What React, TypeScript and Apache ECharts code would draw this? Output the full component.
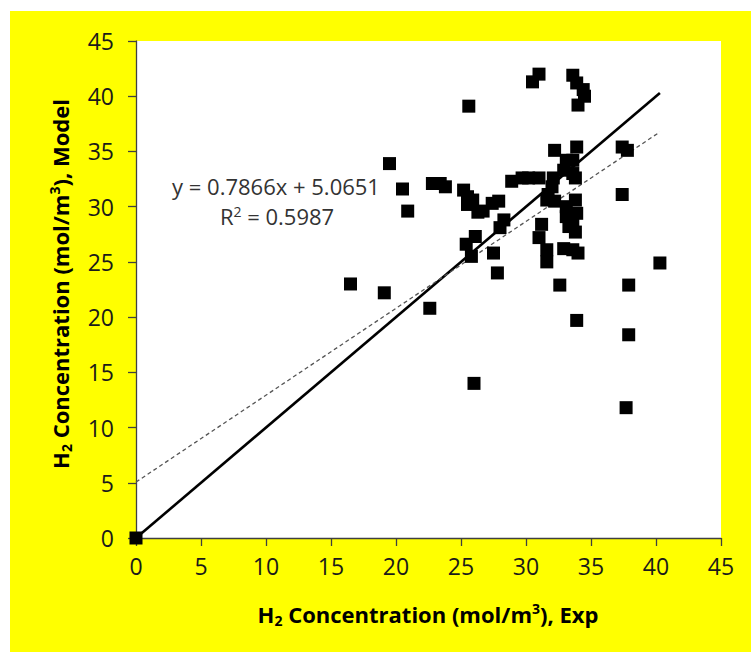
import React, { useEffect, useRef } from "react";
import * as echarts from "echarts";

// Experimental vs. model H2 concentrations (mol/m3)
const expValues = [
  0, 16.5, 19.1, 19.5, 20.5, 20.9, 22.6, 22.8, 23.4, 23.8,
  25.2, 25.5, 25.9, 25.5, 26.3, 25.4, 26.1, 25.8, 26.0, 25.6,
  26.7, 27.4, 27.9, 28.3, 28.0, 27.5, 27.8, 28.9, 29.7, 30.2,
  31.0, 32.1, 32.0, 31.7, 31.6, 32.2, 30.5, 31.0, 33.6, 33.9,
  34.4, 34.5, 34.0, 32.2, 33.9, 33.6, 33.1, 32.9, 33.6, 33.8,
  33.1, 33.8, 33.9, 33.1, 33.6, 33.3, 33.8, 31.2, 31.0, 31.6,
  31.6, 32.9, 33.6, 34.0, 32.6, 33.9, 37.4, 37.8, 37.4, 37.9,
  37.9, 37.7, 40.3,
];
const modelValues = [
  0, 23.0, 22.2, 33.9, 31.6, 29.6, 20.8, 32.1, 32.1, 31.8,
  31.5, 30.9, 30.6, 30.2, 29.5, 26.6, 27.3, 25.5, 14.0, 39.1,
  29.6, 30.3, 30.5, 28.8, 28.1, 25.8, 24.0, 32.3, 32.6, 32.6,
  32.6, 32.6, 31.8, 31.1, 30.6, 30.5, 41.3, 42.0, 41.9, 41.2,
  40.6, 40.0, 39.2, 35.1, 35.4, 34.2, 34.2, 33.3, 33.0, 32.6,
  30.0, 30.6, 29.4, 29.1, 28.5, 28.2, 27.7, 28.4, 27.2, 26.1,
  25.0, 26.2, 26.1, 25.8, 22.9, 19.7, 35.4, 35.1, 31.1, 22.9,
  18.4, 11.8, 24.9,
];

// Linear fit reported on the chart
const fitSlope = 0.7866;
const fitIntercept = 5.0651;
const fitR2 = 0.5987;

const axisTicks = { min: 0, max: 45, interval: 5 };

const FONT = "'Open Sans', 'Noto Sans', sans-serif";

export default function App() {
  const ref = useRef<HTMLDivElement>(null);

  useEffect(() => {
    if (!ref.current) return;
    const chart = echarts.init(ref.current, undefined, { renderer: "svg" });

    const points = expValues.map((x, i) => [x, modelValues[i]]);
    const xMax = Math.max(...expValues);
    const parityLine = [
      [0, 0],
      [xMax, xMax],
    ];
    const fitLine = [
      [0, fitIntercept],
      [xMax, fitSlope * xMax + fitIntercept],
    ];

    const titleRich = {
      b: { fontFamily: FONT, fontSize: 22, fontWeight: "bold", color: "#111", lineHeight: 30 },
      sub: { fontFamily: FONT, fontSize: 14, fontWeight: "bold", color: "#111", lineHeight: 30, padding: [12, 0, 0, 0] },
      sup: { fontFamily: FONT, fontSize: 14, fontWeight: "bold", color: "#111", lineHeight: 30, padding: [0, 0, 12, 0] },
    };

    const axisCommon = {
      type: "value" as const,
      min: axisTicks.min,
      max: axisTicks.max,
      interval: axisTicks.interval,
      splitLine: { show: false },
      axisLine: { show: true, onZero: false, lineStyle: { color: "#404040", width: 1.3 } },
      axisTick: { show: true, inside: false, length: 8, lineStyle: { color: "#404040", width: 1.3 } },
    };

    chart.setOption({
      animation: false,
      backgroundColor: "transparent",
      graphic: [
        {
          type: "rect",
          z: -10,
          shape: { x: 10, y: 11, width: 741, height: 641 },
          style: { fill: "#ffff00" },
          silent: true,
        },
        {
          type: "text",
          x: 276,
          y: 186,
          style: {
            text: `y = ${fitSlope}x + ${fitIntercept}`,
            fontFamily: FONT,
            fontSize: 22,
            fill: "#333",
            align: "center",
            verticalAlign: "middle",
          },
        },
        {
          type: "text",
          x: 277,
          y: 216,
          style: {
            text: "R{sup|2} = " + fitR2.toFixed(4),
            fontFamily: FONT,
            fontSize: 22,
            fill: "#333",
            align: "center",
            verticalAlign: "middle",
            rich: {
              sup: { fontFamily: FONT, fontSize: 14, fill: "#333", padding: [0, 0, 10, 0] },
            },
          },
        },
        {
          type: "text",
          x: 428,
          y: 614,
          style: {
            text: "{b|H}{sub|2}{b| Concentration (mol/m}{sup|3}{b|), Exp}",
            align: "center",
            verticalAlign: "middle",
            rich: titleRich,
          },
        },
        {
          type: "text",
          x: 60,
          y: 284,
          rotation: Math.PI / 2,
          style: {
            text: "{b|H}{sub|2}{b| Concentration (mol/m}{sup|3}{b|), Model}",
            align: "center",
            verticalAlign: "middle",
            rich: titleRich,
          },
        },
      ],
      grid: {
        left: 136,
        right: 30,
        top: 41,
        bottom: 114,
        show: true,
        backgroundColor: "#ffffff",
        borderWidth: 0,
      },
      xAxis: {
        ...axisCommon,
        axisLabel: { margin: 16, fontFamily: FONT, fontSize: 23, color: "#1a1a1a" },
      },
      yAxis: {
        ...axisCommon,
        axisLabel: { margin: 22, fontFamily: FONT, fontSize: 23, color: "#1a1a1a" },
      },
      series: [
        {
          type: "line",
          data: parityLine,
          symbol: "none",
          lineStyle: { color: "#000", width: 2.6 },
          z: 1,
        },
        {
          type: "line",
          data: fitLine,
          symbol: "none",
          lineStyle: { color: "#555", width: 1.3, type: [4, 3] },
          z: 1,
        },
        {
          type: "scatter",
          data: points,
          symbol: "rect",
          symbolSize: 13,
          itemStyle: { color: "#000", opacity: 1 },
          z: 3,
        },
      ],
    });

    return () => chart.dispose();
  }, []);

  return (
    <div
      ref={ref}
      style={{ position: "fixed", left: 0, top: 0, width: 751, height: 652, background: "#fff" }}
    />
  );
}
